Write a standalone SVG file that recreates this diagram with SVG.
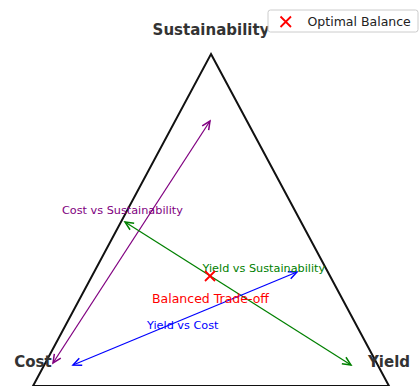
<svg xmlns="http://www.w3.org/2000/svg" width="419" height="386" viewBox="0 0 419 386">
<style>
text{font-family:"DejaVu Sans","Liberation Sans",sans-serif}
.vert{font-size:15px;font-weight:bold;fill:#333;text-anchor:middle}
.lbl{font-size:11.25px}
.arr{fill:none;stroke-width:1.25}
</style>
<defs>
<marker id="hp" markerUnits="userSpaceOnUse" markerWidth="12" markerHeight="12" refX="0" refY="0" viewBox="-8 -5 10 10" orient="auto-start-reverse"><path d="M-7,-3.2 L0,0 L-7,3.2" fill="none" stroke="#800080" stroke-width="1.25"/></marker>
<marker id="hg" markerUnits="userSpaceOnUse" markerWidth="12" markerHeight="12" refX="0" refY="0" viewBox="-8 -5 10 10" orient="auto-start-reverse"><path d="M-7,-3.2 L0,0 L-7,3.2" fill="none" stroke="#008000" stroke-width="1.25"/></marker>
<marker id="hb" markerUnits="userSpaceOnUse" markerWidth="12" markerHeight="12" refX="0" refY="0" viewBox="-8 -5 10 10" orient="auto-start-reverse"><path d="M-7,-3.2 L0,0 L-7,3.2" fill="none" stroke="#0000ff" stroke-width="1.25"/></marker>
</defs>
<rect width="419" height="386" fill="#fff"/>
<g id="triangle">
<polygon points="211,54 389,386 33,386" fill="none" stroke="#111" stroke-width="2"/>
</g>
<g id="connectors">
<line class="arr" x1="53" y1="363" x2="210" y2="121" stroke="#800080" marker-start="url(#hp)" marker-end="url(#hp)"/>
<line class="arr" x1="125" y1="222" x2="351" y2="365" stroke="#008000" marker-start="url(#hg)" marker-end="url(#hg)"/>
<line class="arr" x1="73" y1="365" x2="297" y2="272" stroke="#0000ff" marker-start="url(#hb)" marker-end="url(#hb)"/>
</g>
<g id="vertex-sustainability"><text class="vert" x="211" y="35">Sustainability</text></g>
<g id="vertex-cost"><text class="vert" x="33" y="367">Cost</text></g>
<g id="vertex-yield"><text class="vert" x="389" y="367">Yield</text></g>
<g id="labels">
<text class="lbl" x="62" y="214" fill="#800080">Cost vs Sustainability</text>
<text class="lbl" x="202.5" y="271.5" fill="#008000">Yield vs Sustainability</text>
<text class="lbl" x="147" y="329" fill="#0000ff">Yield vs Cost</text>
<text x="152" y="303" font-size="12.5" fill="#ff0000">Balanced Trade-off</text>
</g>
<g id="optimal-point">
<path d="M205,271 L215,281 M215,271 L205,281" stroke="#ff0000" stroke-width="1.8"/>
</g>
<g id="legend">
<rect x="268" y="10" width="150" height="22" rx="2.5" fill="#fff" fill-opacity="0.8" stroke="#ccc" stroke-width="1"/>
<path d="M280.5,16.5 L291,27 M291,16.5 L280.5,27" stroke="#ff0000" stroke-width="1.8"/>
<text x="307.5" y="26" font-size="12.5" fill="#222">Optimal Balance</text>
</g>
</svg>
